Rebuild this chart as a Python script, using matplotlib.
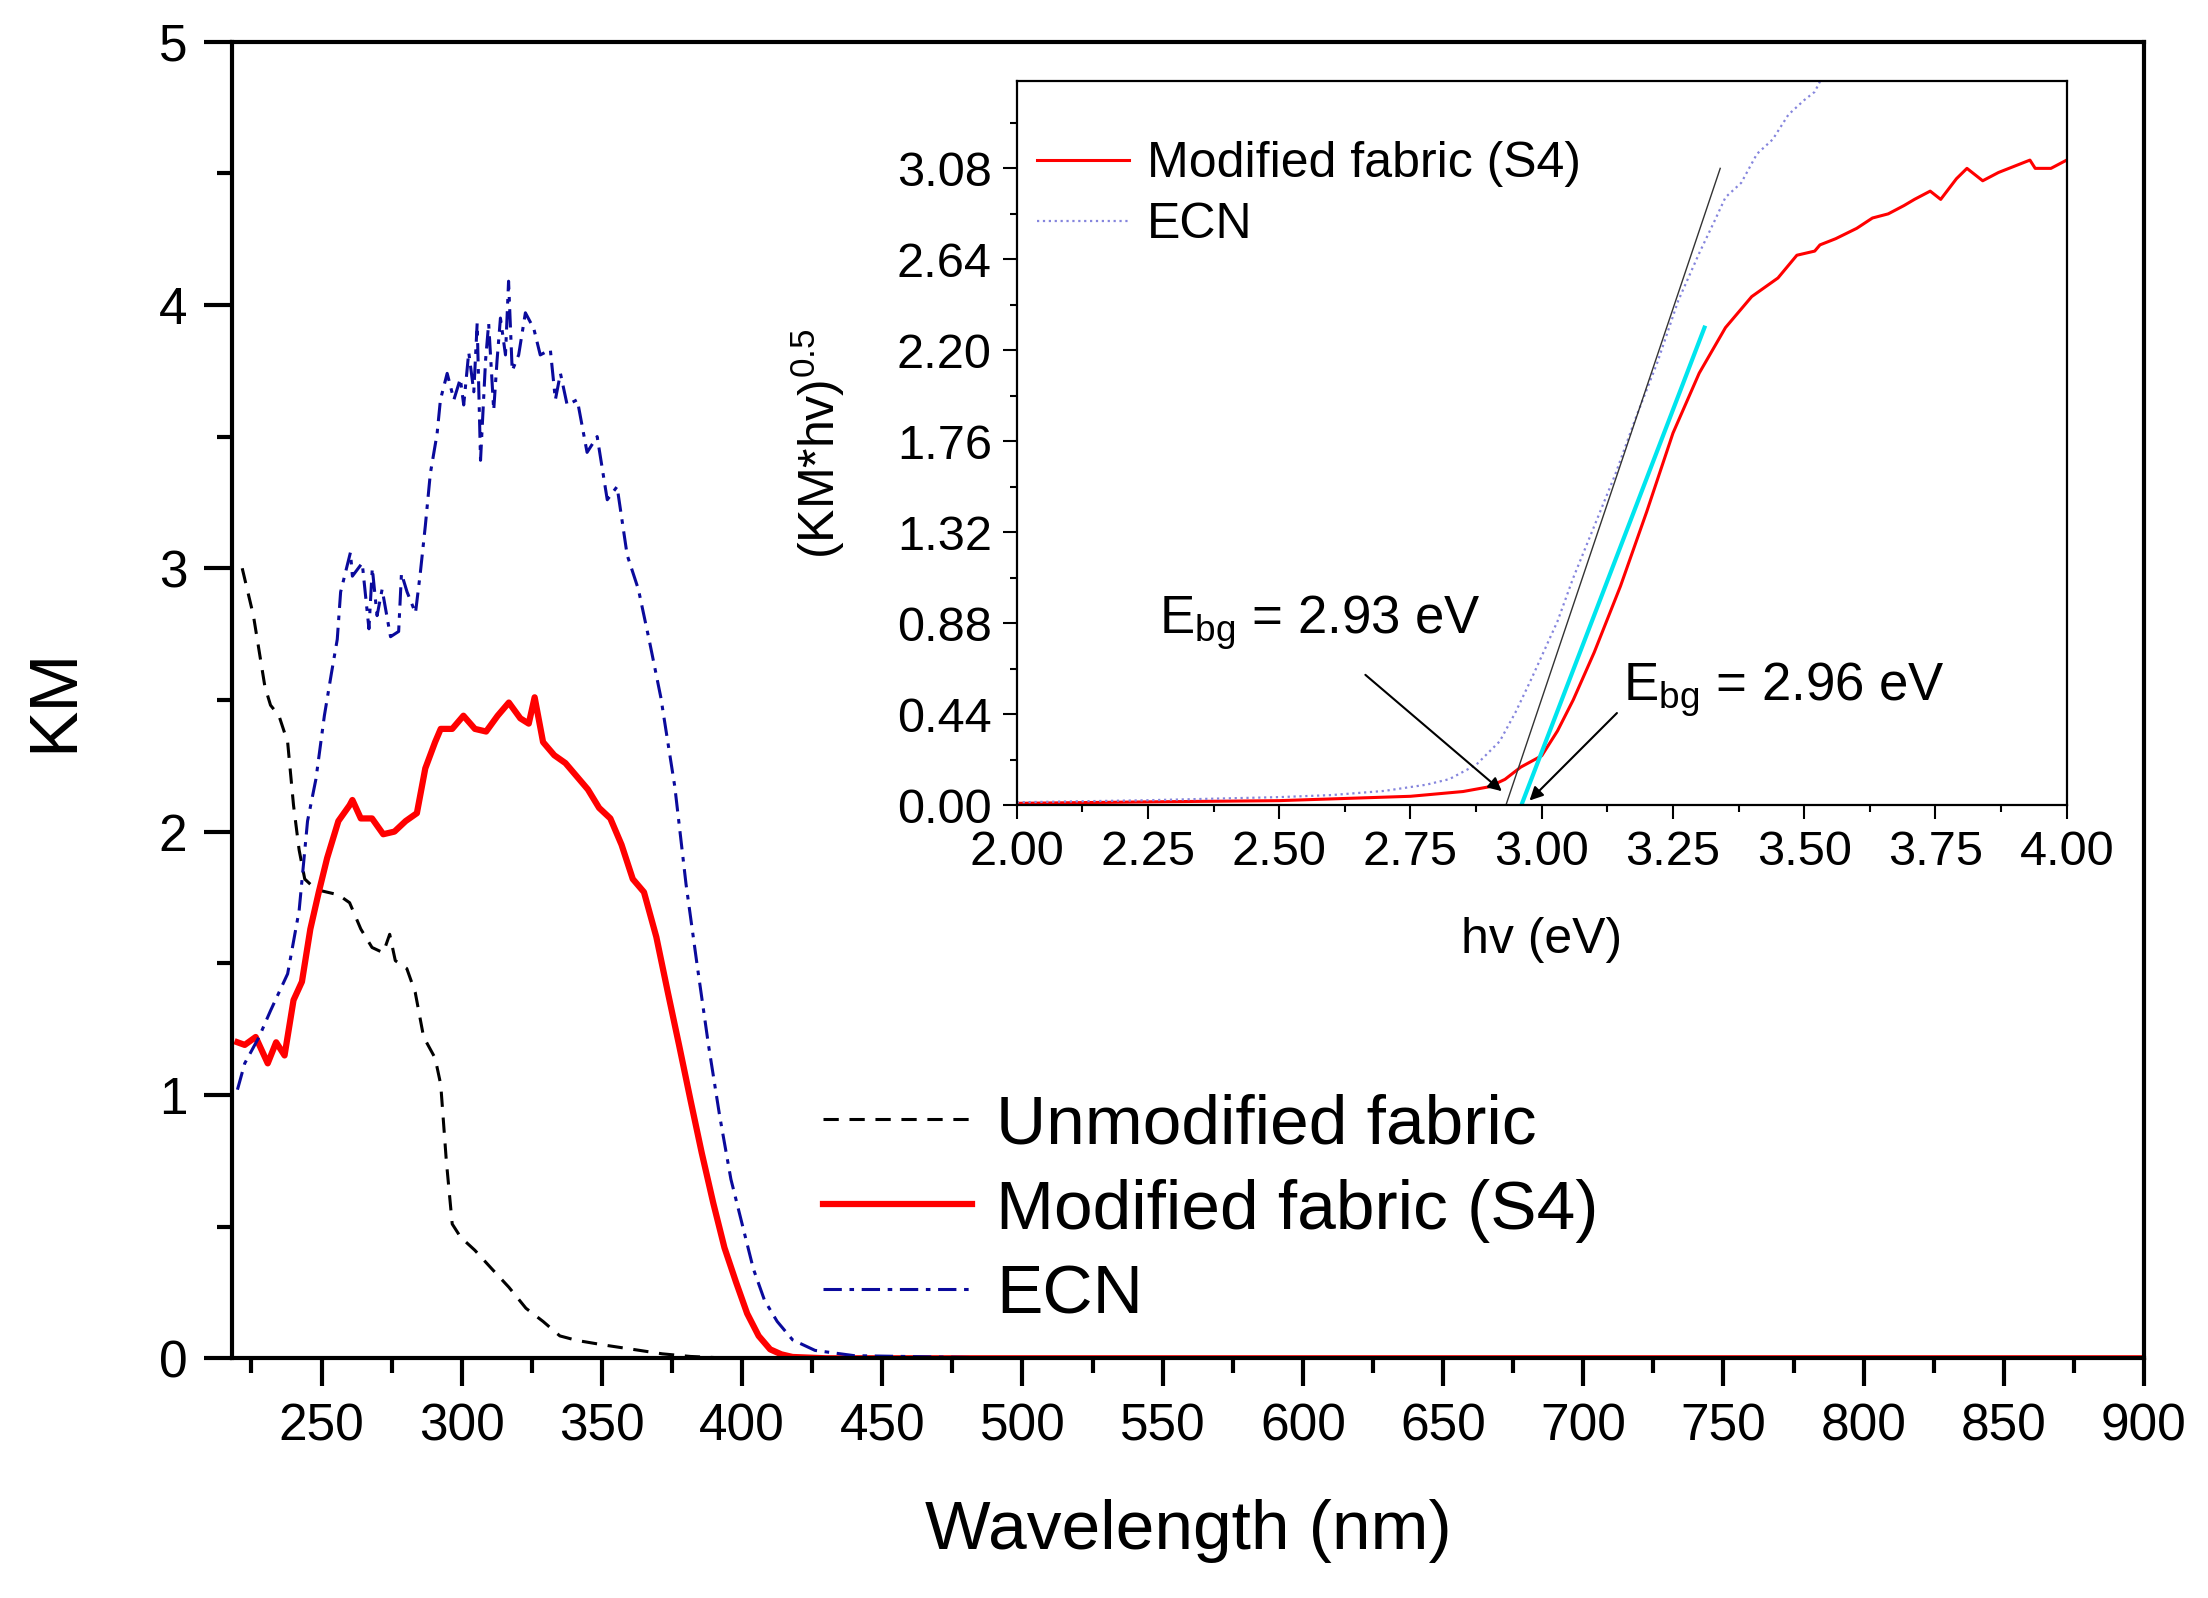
import matplotlib
matplotlib.use("Agg")
import matplotlib.pyplot as plt
from matplotlib.ticker import MultipleLocator, FormatStrFormatter

plt.rcParams['font.family'] = ['Liberation Sans', 'DejaVu Sans']
plt.rcParams['mathtext.fontset'] = 'custom'
plt.rcParams['mathtext.rm'] = 'Liberation Sans'
plt.rcParams['mathtext.it'] = 'Liberation Sans'

# main panel: KM vs wavelength
wl_unmod = [221.7, 225.7, 229.8, 231.8, 234.8, 237.9, 240, 242, 244, 248, 252, 256, 260,
            264, 268, 272, 274.3, 276.3, 280.4, 283.4, 286.4, 290.5, 292.5, 294.5, 296.6,
            299.6, 304.7, 310.7, 316.8, 322.9, 329, 335, 341, 351, 361, 371.5, 381.6,
            392, 420, 500, 600, 700, 800]
km_unmod = [3.00, 2.82, 2.55, 2.48, 2.44, 2.34, 2.10, 1.93, 1.82, 1.78, 1.77, 1.76, 1.73,
            1.63, 1.56, 1.54, 1.61, 1.51, 1.48, 1.39, 1.22, 1.14, 1.04, 0.75, 0.51,
            0.46, 0.41, 0.34, 0.27, 0.19, 0.14, 0.085, 0.068, 0.05, 0.034, 0.017, 0.007,
            0.002, 0.0, 0.0, 0.0, 0.0, 0.0]

wl_s4 = [220, 222.6, 226.5, 230.8, 233.8, 236.8, 240, 243, 246, 249, 252, 256, 260, 261,
         264, 268, 272, 276, 280, 284, 287, 290.5, 292.5, 296.6, 300.6, 304.7, 308.7,
         312.8, 316.8, 320.9, 323.9, 326, 329, 333, 337, 341, 345, 349, 353, 357, 361,
         365, 369.4, 373.5, 377.5, 381.6, 385.6, 389.7, 393.7, 397.8, 401.8, 405.9, 410,
         414, 418, 430, 500, 600, 700, 800, 900]
km_s4 = [1.20, 1.19, 1.22, 1.12, 1.20, 1.15, 1.36, 1.43, 1.63, 1.77, 1.90, 2.04, 2.10, 2.12,
         2.05, 2.05, 1.99, 2.00, 2.04, 2.07, 2.24, 2.34, 2.39, 2.39, 2.44, 2.39, 2.38,
         2.44, 2.49, 2.43, 2.41, 2.51, 2.34, 2.29, 2.26, 2.21, 2.16, 2.09, 2.05, 1.95, 1.82,
         1.77, 1.60, 1.39, 1.19, 0.98, 0.78, 0.59, 0.42, 0.29, 0.17, 0.085, 0.034,
         0.015, 0.005, 0.0, 0.0, 0.0, 0.0, 0.0, 0.0]

wl_ecn = [220, 222.6, 227.7, 231.8, 237.9, 242, 245, 248, 251, 253.5, 255.6, 256.8, 260.3,
          261, 264.5, 266.9, 268.1, 269.8, 271.6, 274.6, 277.5, 278.5, 280.5, 283.5, 285.2,
          287, 288.8, 291.2, 292.4, 294.8, 297.2, 299.5, 300.7, 302.5, 304.3, 305.5, 306.7,
          308.5, 309.6, 311.4, 312.6, 313.8, 315.6, 316.7, 318, 320.3, 322.7, 325.7, 328,
          331.6, 333.4, 335.2, 337.6, 341.2, 344.7, 348.3, 351.9, 355.4, 359, 363, 367, 371,
          376, 380, 384, 388, 392, 396, 400, 404, 408, 412.5, 418, 426, 440, 500, 600, 700,
          800]
km_ecn = [1.02, 1.12, 1.22, 1.32, 1.46, 1.70, 2.04, 2.20, 2.44, 2.60, 2.73, 2.91, 3.06,
          2.97, 3.02, 2.77, 3.00, 2.82, 2.92, 2.74, 2.76, 2.98, 2.91, 2.83, 2.98,
          3.16, 3.36, 3.51, 3.64, 3.74, 3.64, 3.72, 3.62, 3.82, 3.67, 3.93, 3.41,
          3.79, 3.93, 3.60, 3.79, 3.95, 3.81, 4.09, 3.75, 3.81, 3.97, 3.91, 3.81,
          3.83, 3.64, 3.74, 3.62, 3.64, 3.44, 3.50, 3.26, 3.31, 3.05, 2.92, 2.72, 2.51,
          2.17, 1.80, 1.49, 1.19, 0.92, 0.68, 0.51, 0.34, 0.22, 0.14, 0.07, 0.03, 0.01, 0.0,
          0.0, 0.0, 0.0]

# inset: (KM*hv)^0.5 vs photon energy
hv_s4 = [2.00, 2.25, 2.50, 2.75, 2.85, 2.90, 2.93, 2.96, 3.00, 3.03, 3.06, 3.10, 3.15, 3.20,
         3.25, 3.30, 3.35, 3.40, 3.45, 3.486, 3.52, 3.53, 3.56, 3.60, 3.63, 3.66, 3.69,
         3.71, 3.74, 3.76, 3.79, 3.81, 3.84, 3.87, 3.90, 3.93, 3.94, 3.97, 4.00]
f_s4 = [0.01, 0.017, 0.023, 0.044, 0.067, 0.09, 0.126, 0.185, 0.24, 0.36, 0.51, 0.74, 1.06,
        1.42, 1.80, 2.09, 2.31, 2.46, 2.55, 2.66, 2.68, 2.71, 2.74, 2.79, 2.84, 2.86, 2.90,
        2.93, 2.97, 2.93, 3.03, 3.08, 3.02, 3.06, 3.09, 3.12, 3.08, 3.08, 3.12]

hv_ecn = [2.00, 2.25, 2.50, 2.60, 2.70, 2.78, 2.824, 2.875, 2.92, 2.95, 2.98, 3.03, 3.06,
          3.10, 3.14, 3.18, 3.22, 3.26, 3.30, 3.33, 3.35, 3.38, 3.41, 3.44, 3.47, 3.50,
          3.52, 3.53]
f_ecn = [0.015, 0.025, 0.04, 0.05, 0.07, 0.10, 0.127, 0.196, 0.31, 0.45, 0.61, 0.89, 1.10,
         1.35, 1.60, 1.88, 2.14, 2.44, 2.67, 2.83, 2.94, 3.01, 3.15, 3.22, 3.34, 3.41,
         3.45, 3.50]

# tangent lines used for the band-gap estimate
fit_ecn_x = [2.925, 3.34]
fit_ecn_y = [-0.05, 3.08]
fit_s4_x = [2.955, 3.31]
fit_s4_y = [-0.04, 2.31]

fig = plt.figure(figsize=(22.08, 15.98), dpi=100)
ax = fig.add_axes([0.105, 0.150, 0.866, 0.824])

ax.plot(wl_unmod, km_unmod, color='black', lw=2.2, dashes=(5, 3.5), label='Unmodified fabric')
ax.plot(wl_s4, km_s4, color='#ff0000', lw=4.5, label='Modified fabric (S4)')
ax.plot(wl_ecn, km_ecn, color='#0a0a9c', lw=2.2, dashes=(6, 2.5, 1.5, 2.5), label='ECN')

ax.set_xlim(218, 900)
ax.set_ylim(0, 5)
ax.set_xticks(list(range(250, 901, 50)))
ax.xaxis.set_minor_locator(MultipleLocator(25))
ax.yaxis.set_major_locator(MultipleLocator(1))
ax.yaxis.set_minor_locator(MultipleLocator(0.5))
ax.tick_params(which='major', direction='out', length=20, width=3, labelsize=37, pad=12)
ax.tick_params(which='minor', direction='out', length=11, width=3)
ax.tick_params(top=False, right=False)
for sp in ax.spines.values():
    sp.set_linewidth(3)
ax.set_xlabel('Wavelength (nm)', fontsize=50, labelpad=34)
ax.set_ylabel('KM', fontsize=50, labelpad=52)

ax.legend(loc='upper left', bbox_to_anchor=(0.2945, 0.222), frameon=False, fontsize=50,
          handlelength=2.15, handletextpad=0.35, labelspacing=0.3, borderaxespad=0)

# inset
ins = fig.add_axes([0.4605, 0.496, 0.4755, 0.453])
ins.plot(hv_s4, f_s4, color='#ff0000', lw=2.2, label='Modified fabric (S4)')
ins.plot(hv_ecn, f_ecn, color='#8585dd', lw=1.6, ls=':', label='ECN')
ins.plot(fit_ecn_x, fit_ecn_y, color='#333333', lw=1.0)
ins.plot(fit_s4_x, fit_s4_y, color='#00e5ee', lw=3.0)

ins.set_xlim(2.0, 4.0)
ins.set_ylim(0, 3.5)
ins.xaxis.set_major_locator(MultipleLocator(0.25))
ins.xaxis.set_minor_locator(MultipleLocator(0.125))
ins.set_yticks([0.0, 0.44, 0.88, 1.32, 1.76, 2.20, 2.64, 3.08])
ins.yaxis.set_minor_locator(MultipleLocator(0.22))
ins.xaxis.set_major_formatter(FormatStrFormatter('%.2f'))
ins.yaxis.set_major_formatter(FormatStrFormatter('%.2f'))
ins.tick_params(which='major', direction='out', length=10, width=1.5, labelsize=35, pad=8)
ins.tick_params(which='minor', direction='out', length=5, width=1.5)
for sp in ins.spines.values():
    sp.set_linewidth(1.6)
ins.set_xlabel('hv (eV)', fontsize=36, labelpad=30)
ins.set_ylabel('(KM*hv)$^{0.5}$', fontsize=36, labelpad=36)

ins.legend(loc='upper left', bbox_to_anchor=(0.0, 0.945), frameon=False, fontsize=36,
           handlelength=1.85, handletextpad=0.35, labelspacing=0.3, borderaxespad=0)

ins.annotate('E$_{bg}$ = 2.93 eV', xy=(2.928, 0.06), xytext=(2.27, 0.74),
             fontsize=38, ha='left', va='bottom')
ins.annotate('', xy=(2.928, 0.06), xytext=(2.66, 0.64),
             arrowprops=dict(arrowstyle='-|>', color='black', lw=1.5, mutation_scale=20))
ins.annotate('E$_{bg}$ = 2.96 eV', xy=(2.973, 0.014), xytext=(3.155, 0.42),
             fontsize=38, ha='left', va='bottom')
ins.annotate('', xy=(2.973, 0.014), xytext=(3.147, 0.456),
             arrowprops=dict(arrowstyle='-|>', color='black', lw=1.5, mutation_scale=20))

fig.savefig('out.png', dpi=100)
